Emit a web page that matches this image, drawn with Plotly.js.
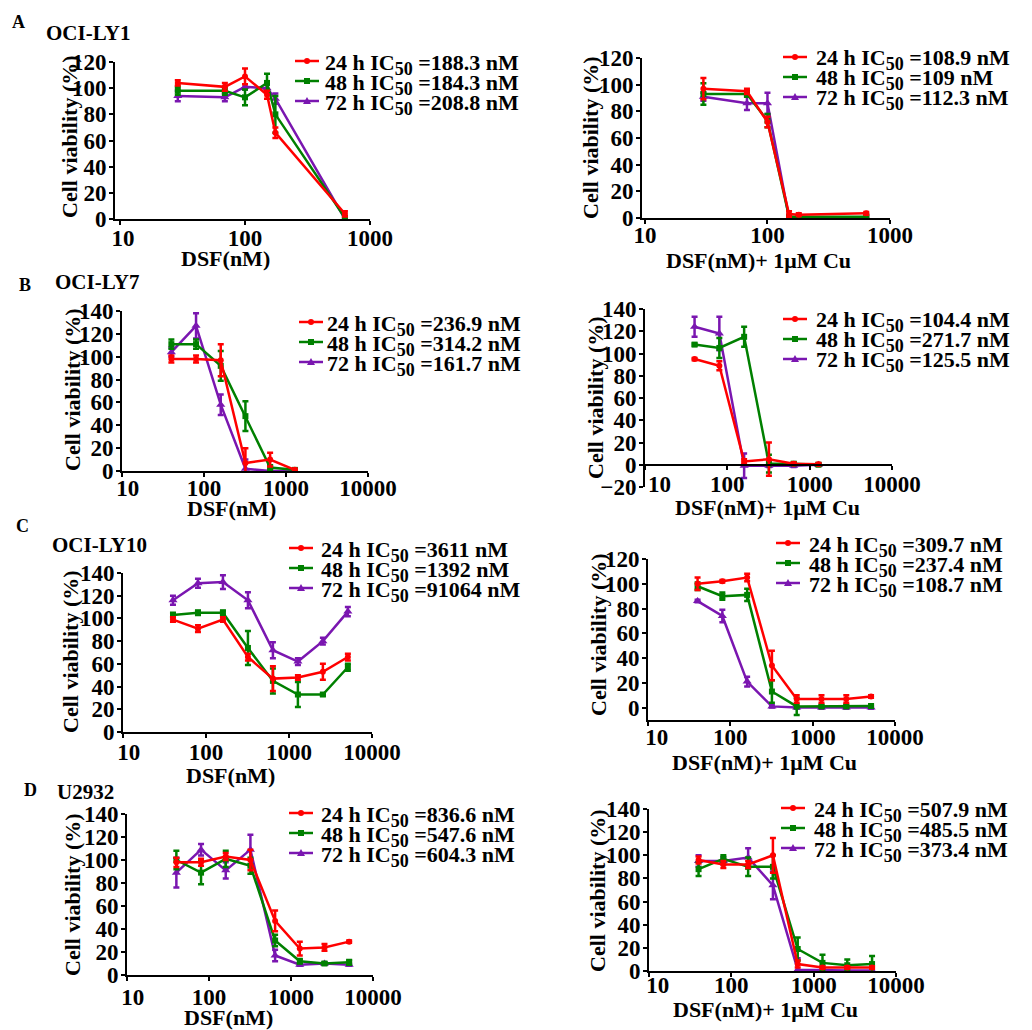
<!DOCTYPE html>
<html><head><meta charset="utf-8">
<script src="https://cdn.plot.ly/plotly-3.0.1.min.js"></script>
<style>html,body{margin:0;padding:0;background:#fff}#chart{width:1032px;height:1030px}</style>
</head><body><div id="chart"></div>
<script>
// ---------------- DATA ----------------
const seriesNames = ['24 h', '48 h', '72 h'];
const xTickVals = [10, 100, 1000, 10000];
const xTickText = ['10', '100', '1000', '10000'];

// concentrations (nM)
const concLY1 = [29, 69, 100, 150, 175, 630];
const concLY1Cu = [30, 68, 100, 150, 180, 640];
const conc6 = [40, 80, 160, 320, 640, 1280];
const conc8 = [40, 80, 160, 320, 640, 1280, 2560, 5120];

// OCI-LY1, DSF
const ly1_24 = [104, 101, 109, 95, 66, 4];   const ly1_24e = [2, 3, 6, 3, 4, 2];
const ly1_48 = [98, 98, 93, 104, 80, 1];     const ly1_48e = [3, 3, 6, 7, 14, 1];
const ly1_72 = [94, 93, 101, 100, 92, 0];    const ly1_72e = [4, 3, 2, 3, 4, 1];
// OCI-LY1, DSF + Cu
const ly1cu_24 = [97, 95, 72, 3, 2.5, 3.5];  const ly1cu_24e = [8, 2, 4, 2, 1, 1];
const ly1cu_48 = [93, 93, 73, 1, 1, 1];      const ly1cu_48e = [8, 2, 5, 1, 1, 1];
const ly1cu_72 = [91, 86, 86, 0, 0, 0];      const ly1cu_72e = [3, 5, 8, 1, 1, 1];

// OCI-LY7, DSF
const ly7_24 = [98, 98, 97, 7, 10, 1];       const ly7_24e = [3, 3, 14, 13, 6, 1];
const ly7_48 = [111, 111, 92, 48, 3, 1];     const ly7_48e = [4, 4, 13, 13, 2, 1];
const ly7_72 = [104, 127, 58, 2, 0, 0];      const ly7_72e = [4, 11, 9, 8, 1, 1];
// OCI-LY7, DSF + Cu
const ly7cu_24 = [95, 89, 3, 5, 1, 0.5];     const ly7cu_24e = [1, 4, 2, 15, 1, 1];
const ly7cu_48 = [108, 105, 115, 1, 1, 0];   const ly7cu_48e = [1, 9, 9, 8, 1, 1];
const ly7cu_72 = [124, 118, -1, -1, -1, 0];  const ly7cu_72e = [9, 15, 11, 1, 1, 1];

// OCI-LY10, DSF
const ly10_24 = [99, 91, 99, 66, 47, 48, 53, 66];     const ly10_24e = [2, 3, 2, 3, 11, 2, 7, 3];
const ly10_48 = [103, 105, 105, 74, 45, 33, 33, 57];  const ly10_48e = [2, 2, 2, 15, 11, 11, 1, 3];
const ly10_72 = [116, 131, 132, 116, 72, 62, 80, 106]; const ly10_72e = [4, 4, 6, 7, 7, 3, 3, 4];
// OCI-LY10, DSF + Cu
const ly10cu_24 = [100, 102, 105, 34, 7, 7, 7, 9];    const ly10cu_24e = [5, 1, 3, 12, 3, 3, 3, 1];
const ly10cu_48 = [98, 90, 91, 13, 1, 1, 1, 1.3];     const ly10cu_48e = [3, 3, 5, 9, 7, 1, 1, 1];
const ly10cu_72 = [86, 74, 21, 1, 0, 0, 0, 0];        const ly10cu_72e = [1, 5, 4, 1, 1, 1, 1, 1];

// U2932, DSF
const u_24 = [98, 98, 103, 100, 47, 23, 24, 29];      const u_24e = [4, 3, 3, 9, 9, 6, 3, 1];
const u_48 = [100, 89, 101, 95, 30, 12, 10, 11];      const u_48e = [8, 10, 7, 7, 5, 2, 1, 2];
const u_72 = [89, 109, 91, 109, 17, 9, 10, 9];        const u_72e = [13, 5, 7, 13, 5, 1, 1, 1];
// U2932, DSF + Cu
const ucu_24 = [96, 92, 92, 100, 6, 3, 3, 3];         const ucu_24e = [3, 3, 3, 15, 3, 1, 1, 1];
const ucu_48 = [88, 97, 90, 90, 19, 7, 5, 6];         const ucu_48e = [6, 3, 8, 10, 10, 7, 5, 7];
const ucu_72 = [95, 95, 98, 74, 1, 0.5, 0.5, 0.5];    const ucu_72e = [5, 3, 8, 12, 10, 1, 1, 1];

// IC50 labels (nM)
const ic50_ly1 = ['188.3', '184.3', '208.8'];
const ic50_ly1cu = ['108.9', '109', '112.3'];
const ic50_ly7 = ['236.9', '314.2', '161.7'];
const ic50_ly7cu = ['104.4', '271.7', '125.5'];
const ic50_ly10 = ['3611', '1392', '91064'];
const ic50_ly10cu = ['309.7', '237.4', '108.7'];
const ic50_u = ['836.6', '547.6', '604.3'];
const ic50_ucu = ['507.9', '485.5', '373.4'];

const cellLines = ['OCI-LY1', 'OCI-LY7', 'OCI-LY10', 'U2932'];
const panelLetters = ['A', 'B', 'C', 'D'];
const xTitleDSF = 'DSF(nM)';
const xTitleCu = 'DSF(nM)+ 1\u03bcM Cu';
const yTitle = 'Cell viability (%)';

// ---------------- STYLE / LAYOUT ----------------
const W = 1032, H = 1030;
const colors = ['#ff0000', '#008000', '#7a16b0'];
const symbols = ['circle', 'square', 'triangle-up'];
const msizes = [6, 6, 8];
const FONT = 'Liberation Serif, Times New Roman, serif';
const NB = '\u00a0';

const panels = [
  {conc: concLY1, ys: [ly1_24, ly1_48, ly1_72], es: [ly1_24e, ly1_48e, ly1_72e], ic: ic50_ly1, xt: xTitleDSF,
   box: {x0: 115, x1: 370, yT: 62, yB: 219}, xr: [0.96, 3], yr: [0, 120], yt: [0,20,40,60,80,100,120], nx: 3, pad10: 1, xso: -7,
   leg: {lx: 295, tx: 323, y: 61}, xtPos: [225, 258], ytPos: [69, 137]},
  {conc: concLY1Cu, ys: [ly1cu_24, ly1cu_48, ly1cu_72], es: [ly1cu_24e, ly1cu_48e, ly1cu_72e], ic: ic50_ly1cu, xt: xTitleCu,
   box: {x0: 642, x1: 890, yT: 58, yB: 218}, xr: [0.976, 3], yr: [0, 120], yt: [0,20,40,60,80,100,120], nx: 3, pad10: 0, xso: -9,
   leg: {lx: 783, tx: 814, y: 57}, xtPos: [758, 260], ytPos: [591, 138]},
  {conc: conc6, ys: [ly7_24, ly7_48, ly7_72], es: [ly7_24e, ly7_48e, ly7_72e], ic: ic50_ly7, xt: xTitleDSF,
   box: {x0: 122, x1: 368, yT: 311, yB: 471}, xr: [1, 4], yr: [0, 140], yt: [0,20,40,60,80,100,120,140], nx: 4, pad10: 2, xso: -9,
   leg: {lx: 299, tx: 325, y: 322}, xtPos: [231, 508], ytPos: [72, 390]},
  {conc: conc6, ys: [ly7cu_24, ly7cu_48, ly7cu_72], es: [ly7cu_24e, ly7cu_48e, ly7cu_72e], ic: ic50_ly7cu, xt: xTitleCu,
   box: {x0: 645, x1: 892, yT: 309, yB: 487}, xr: [1, 4], yr: [-20, 140], yt: [-20,0,20,40,60,80,100,120,140], nx: 4, pad10: 5, xso: -5,
   xAtZero: true, leg: {lx: 783, tx: 814, y: 319}, xtPos: [767, 507], ytPos: [596, 398]},
  {conc: conc8, ys: [ly10_24, ly10_48, ly10_72], es: [ly10_24e, ly10_48e, ly10_72e], ic: ic50_ly10, xt: xTitleDSF,
   box: {x0: 123, x1: 372, yT: 573, yB: 732}, xr: [1, 4], yr: [0, 140], yt: [0,20,40,60,80,100,120,140], nx: 4, pad10: 2, xso: -6,
   leg: {lx: 289, tx: 319, y: 548}, xtPos: [230, 775], ytPos: [70, 652]},
  {conc: conc8, ys: [ly10cu_24, ly10cu_48, ly10cu_72], es: [ly10cu_24e, ly10cu_48e, ly10cu_72e], ic: ic50_ly10cu, xt: xTitleCu,
   box: {x0: 648, x1: 895, yT: 559, yB: 720}, xr: [1, 4], yr: [-10, 120], yt: [0,20,40,60,80,100,120], nx: 4, pad10: 3, xso: -9,
   leg: {lx: 776, tx: 807, y: 543}, xtPos: [764, 762], ytPos: [598, 635]},
  {conc: conc8, ys: [u_24, u_48, u_72], es: [u_24e, u_48e, u_72e], ic: ic50_u, xt: xTitleDSF,
   box: {x0: 127, x1: 373, yT: 814, yB: 975}, xr: [1, 4], yr: [0, 140], yt: [0,20,40,60,80,100,120,140], nx: 4, pad10: 2, xso: -4,
   leg: {lx: 289, tx: 319, y: 813}, xtPos: [228, 1017], ytPos: [72, 895]},
  {conc: conc8, ys: [ucu_24, ucu_48, ucu_72], es: [ucu_24e, ucu_48e, ucu_72e], ic: ic50_ucu, xt: xTitleCu,
   box: {x0: 649, x1: 896, yT: 809, yB: 971}, xr: [1, 4], yr: [0, 140], yt: [0,20,40,60,80,100,120,140], nx: 4, pad10: 3, xso: -12,
   leg: {lx: 781, tx: 812, y: 808}, xtPos: [765, 1009], ytPos: [597, 891]}
];

const labelPos = [
  {lx: 10, ly: 22, cx: 44, cy: 33},
  {lx: 17, ly: 285, cx: 53, cy: 282},
  {lx: 14, ly: 526, cx: 50, cy: 545},
  {lx: 22, ly: 790, cx: 55, cy: 792}
];

const px = v => v / W;
const py = v => 1 - v / H;
const bold = (size) => ({family: FONT, size: size, color: '#000', weight: 'bold'});

const traces = [];
const layout = {
  width: W, height: H,
  margin: {l: 0, r: 0, t: 0, b: 0},
  paper_bgcolor: '#fff', plot_bgcolor: 'rgba(0,0,0,0)',
  showlegend: false,
  font: bold(22),
  annotations: [], shapes: []
};

panels.forEach((p, i) => {
  const n = i + 1;
  const xa = n === 1 ? 'x' : 'x' + n;
  const ya = n === 1 ? 'y' : 'y' + n;
  const xKey = n === 1 ? 'xaxis' : 'xaxis' + n;
  const yKey = n === 1 ? 'yaxis' : 'yaxis' + n;
  const yDom = [py(p.box.yB), py(p.box.yT)];
  const tText = xTickText.slice(0, p.nx);
  tText[0] = NB.repeat(p.pad10) + tText[0];

  const xaxis = {
    type: 'log', range: p.xr, domain: [px(p.box.x0), px(p.box.x1)],
    anchor: ya, showgrid: false, zeroline: false, showline: true, linecolor: '#000', linewidth: 2,
    ticks: 'outside', ticklen: 4, tickwidth: 2, tickcolor: '#000',
    tickmode: 'array', tickvals: xTickVals.slice(0, p.nx), ticktext: tText,
    ticklabelstandoff: p.xso,
    tickfont: bold(23), automargin: false, fixedrange: true
  };
  if (p.xAtZero) {
    xaxis.anchor = 'free';
    xaxis.position = yDom[0] + (0 - p.yr[0]) / (p.yr[1] - p.yr[0]) * (yDom[1] - yDom[0]);
  }
  layout[xKey] = xaxis;
  layout[yKey] = {
    range: p.yr, domain: yDom, anchor: xa,
    showgrid: false, zeroline: false, showline: true, linecolor: '#000', linewidth: 2,
    ticks: 'outside', ticklen: 4, tickwidth: 2, tickcolor: '#000',
    tickmode: 'array', tickvals: p.yt, ticklabelstandoff: -2,
    tickfont: bold(23), automargin: false, fixedrange: true
  };

  // axis titles
  layout.annotations.push({xref: 'paper', yref: 'paper', x: px(p.xtPos[0]), y: py(p.xtPos[1]),
    xanchor: 'center', yanchor: 'middle', showarrow: false, text: p.xt, font: bold(22)});
  layout.annotations.push({xref: 'paper', yref: 'paper', x: px(p.ytPos[0]), y: py(p.ytPos[1]),
    xanchor: 'center', yanchor: 'middle', showarrow: false, textangle: -90, text: yTitle, font: bold(22)});

  for (let s = 2; s >= 0; s--) {
    traces.push({
      type: 'scatter', mode: 'lines+markers', xaxis: xa, yaxis: ya,
      name: seriesNames[s], x: p.conc, y: p.ys[s],
      line: {color: colors[s], width: 2.5},
      marker: {color: colors[s], symbol: symbols[s], size: msizes[s]},
      error_y: {type: 'data', array: p.es[s], visible: true, color: colors[s], thickness: 2.5, width: 3},
      cliponaxis: false, hoverinfo: 'x+y+name'
    });
  }

  // custom compact legend
  for (let s = 0; s < 3; s++) {
    const ry = p.leg.y + s * 20;
    layout.shapes.push({type: 'line', xref: 'paper', yref: 'paper',
      x0: px(p.leg.lx), x1: px(p.leg.lx + 24), y0: py(ry), y1: py(ry),
      line: {color: colors[s], width: 2.5}});
    const cx = px(p.leg.lx + 12), cy = py(ry);
    if (s === 0) {
      layout.shapes.push({type: 'circle', xref: 'paper', yref: 'paper', xsizemode: 'pixel', ysizemode: 'pixel',
        xanchor: cx, yanchor: cy, x0: -3, x1: 3, y0: -3, y1: 3, fillcolor: colors[s], line: {width: 0}});
    } else if (s === 1) {
      layout.shapes.push({type: 'rect', xref: 'paper', yref: 'paper', xsizemode: 'pixel', ysizemode: 'pixel',
        xanchor: cx, yanchor: cy, x0: -3, x1: 3, y0: -3, y1: 3, fillcolor: colors[s], line: {width: 0}});
    } else {
      layout.shapes.push({type: 'path', xref: 'paper', yref: 'paper', xsizemode: 'pixel', ysizemode: 'pixel',
        xanchor: cx, yanchor: cy, path: 'M-4,-3L4,-3L0,4Z', fillcolor: colors[s], line: {width: 0}});
    }
    layout.annotations.push({xref: 'paper', yref: 'paper', x: px(p.leg.tx), y: py(ry + 3),
      xanchor: 'left', yanchor: 'middle', showarrow: false,
      text: seriesNames[s] + ' IC<sub><span style="font-size:18px">50</span></sub> =' + p.ic[s] + ' nM',
      font: bold(22)});
  }
});

cellLines.forEach((c, i) => {
  const lp = labelPos[i];
  layout.annotations.push({xref: 'paper', yref: 'paper', x: px(lp.lx), y: py(lp.ly), xanchor: 'left', yanchor: 'middle',
    showarrow: false, text: panelLetters[i], font: bold(18)});
  layout.annotations.push({xref: 'paper', yref: 'paper', x: px(lp.cx), y: py(lp.cy), xanchor: 'left', yanchor: 'middle',
    showarrow: false, text: c, font: bold(21)});
});

Plotly.newPlot('chart', traces, layout, {staticPlot: true, displayModeBar: false});
</script></body></html>
